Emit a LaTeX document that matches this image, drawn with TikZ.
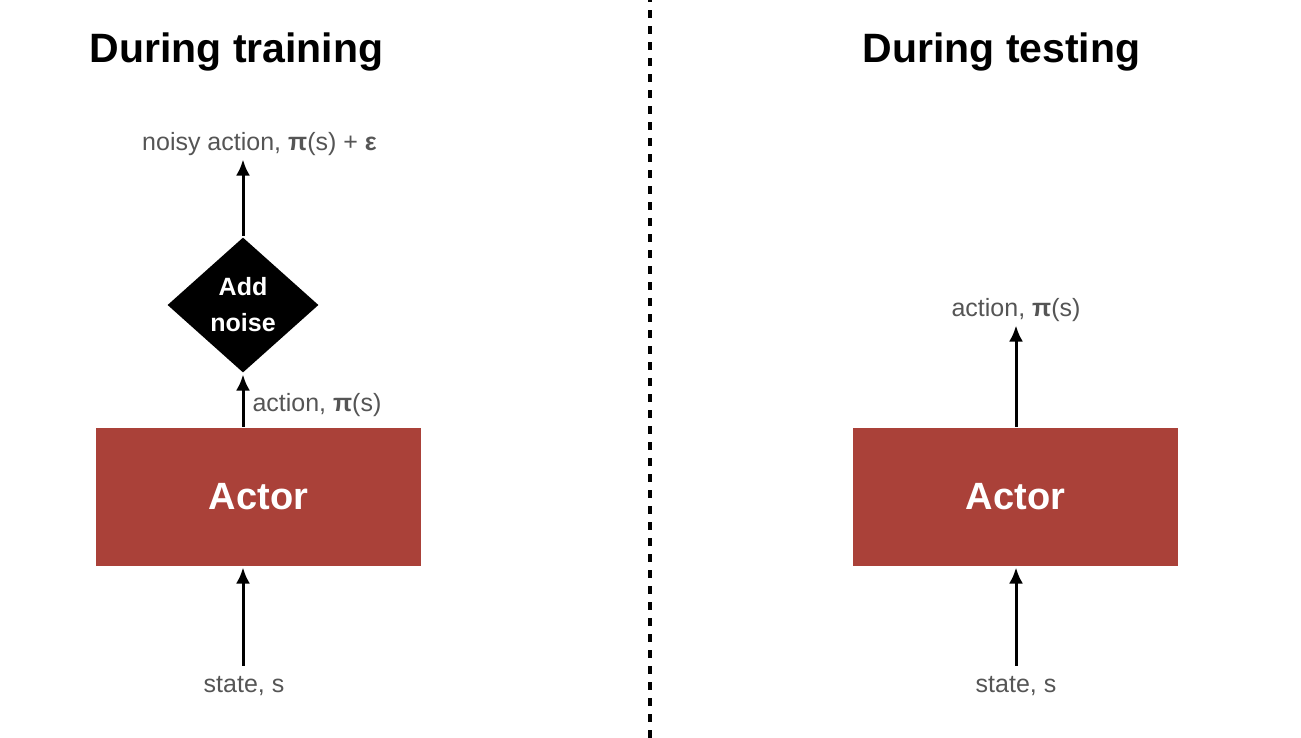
\documentclass[tikz,border=0pt]{standalone}
\usepackage{fontspec}
\setmainfont{Liberation Sans}
\usetikzlibrary{shapes.geometric,arrows.meta}
\definecolor{actorred}{HTML}{AA4139}
\definecolor{labelgray}{HTML}{555555}
\tikzset{actor/.style={fill=actorred,text=white,minimum width=325pt,minimum height=138pt,font=\fontsize{38}{40}\selectfont\bfseries},
noisebox/.style={diamond,fill=black,text=white,align=center,inner sep=0pt,minimum width=152pt,minimum height=136pt,font=\fontsize{25}{36}\selectfont\bfseries},
lbl/.style={text=labelgray,inner xsep=0pt,inner ysep=3pt,text height=22pt,text depth=5pt,font=\fontsize{25}{30}\selectfont},
headline/.style={inner sep=0pt,font=\fontsize{41}{46}\selectfont\bfseries}}

\begin{document}
\begin{tikzpicture}[x=1pt,y=-1pt,>={Latex[length=16pt,width=14pt]},every path/.style={line width=3pt}]
\useasboundingbox (0,0) rectangle (1301,737);

\node[headline,anchor=base] (h1) at (236.5,62) {During training};
\node[headline,anchor=base] (h2) at (1001.5,62) {During testing};
\draw[line width=4pt,dash pattern=on 8pt off 8pt] (650,-6) -- (650,745);

\node[actor] (a1) at (258.5,497) {Actor};
\node[noisebox] (d1) at (243,305) {Add\\noise};
\node[lbl,anchor=base] (s1) at (244,692) {state, s};
\node[lbl,anchor=base west] (p1) at (251,411) {action, \textbf{π}(s)};
\node[lbl,anchor=base] (o1) at (259.5,150) {noisy action, \textbf{π}(s) + \textbf{ε}};
\draw[->] (s1.north -| d1.south) -- (d1.south |- a1.south);
\draw[->] (d1.south |- a1.north) -- (d1.south);
\draw[->] (d1.north) -- (d1.north |- o1.south);

\node[actor] (a2) at (1015.5,497) {Actor};
\node[lbl,anchor=base] (s2) at (1016,692) {state, s};
\node[lbl,anchor=base] (o2) at (1016,316) {action, \textbf{π}(s)};
\draw[->] (s2.north) -- (s2.north |- a2.south);
\draw[->] (o2.south |- a2.north) -- (o2.south);
\end{tikzpicture}
\end{document}
